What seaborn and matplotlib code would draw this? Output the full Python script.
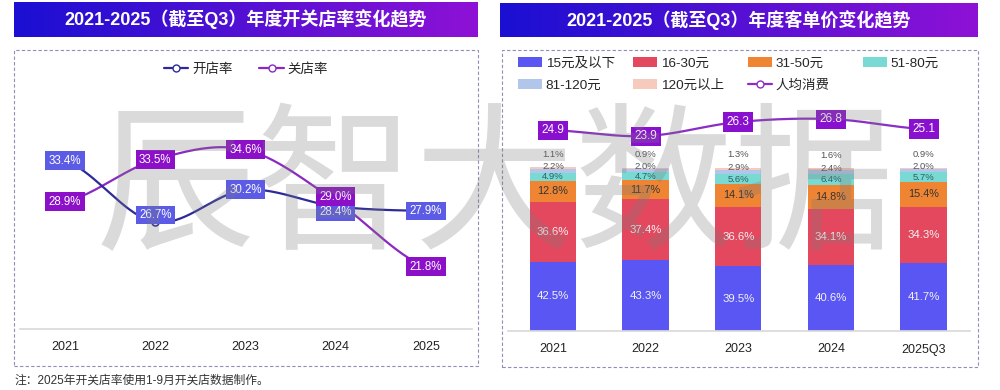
import numpy as np
import pandas as pd
import seaborn as sns
import matplotlib.pyplot as plt
from matplotlib.colors import LinearSegmentedColormap
from matplotlib.lines import Line2D
from matplotlib.patches import Rectangle, Patch

# ---- data ----
years = ['2021', '2022', '2023', '2024', '2025']
open_rate = [33.4, 26.7, 30.2, 28.4, 27.9]
close_rate = [28.9, 33.5, 34.6, 29.0, 21.8]

periods = ['2021', '2022', '2023', '2024', '2025Q3']
band_names = ['15元及以下', '16-30元', '31-50元', '51-80元', '81-120元', '120元以上']
share_le15 = [42.5, 43.3, 39.5, 40.6, 41.7]
share_16_30 = [36.6, 37.4, 36.6, 34.1, 34.3]
share_31_50 = [12.8, 11.7, 14.1, 14.8, 15.4]
share_51_80 = [4.9, 4.7, 5.6, 6.4, 5.7]
share_81_120 = [2.2, 2.0, 2.9, 2.4, 2.0]
share_gt120 = [1.1, 0.9, 1.3, 1.6, 0.9]
avg_spend = [24.9, 23.9, 26.3, 26.8, 25.1]

W, H = 1000, 390


def box(x0, y0, x1, y1):
    # pixel box (top-left origin) -> figure fraction rect
    return [x0 / W, 1 - y1 / H, (x1 - x0) / W, (y1 - y0) / H]


def smooth(vals, n=40):
    v = np.asarray(vals, float)
    xs, ys = [], []
    t = np.linspace(0, 1, n)
    for i in range(len(v) - 1):
        p0 = v[i - 1] if i > 0 else v[i]
        p3 = v[i + 2] if i + 2 < len(v) else v[i + 1]
        yy = 0.5 * (2 * v[i] + (-p0 + v[i + 1]) * t
                    + (2 * p0 - 5 * v[i] + 4 * v[i + 1] - p3) * t ** 2
                    + (-p0 + 3 * v[i] - 3 * v[i + 1] + p3) * t ** 3)
        xs.append(i + t)
        ys.append(yy)
    return np.concatenate(xs), np.concatenate(ys)


sns.set_theme(style='white')
plt.rcParams['font.family'] = ['Liberation Sans', 'Noto Sans CJK SC', 'DejaVu Sans']

fig = plt.figure(figsize=(10, 3.9), dpi=100)
fig.patch.set_facecolor('white')

# ---- title banners ----
grad_cmap = LinearSegmentedColormap.from_list('banner', ['#1a0fd2', '#8e12d6'])
gradient = np.linspace(0, 1, 256).reshape(1, -1)
titles = [('2021-2025（截至Q3）年度开关店率变化趋势', (14, 2, 477, 37)),
          ('2021-2025（截至Q3）年度客单价变化趋势', (500, 3, 978, 37))]
for text, rect in titles:
    axb = fig.add_axes(box(*rect))
    axb.imshow(gradient, aspect='auto', cmap=grad_cmap, extent=(0, 1, 0, 1))
    axb.axis('off')
    axb.text(0.5, 0.5, text, color='white', fontsize=13, fontweight='bold',
             ha='center', va='center', transform=axb.transAxes)

# ---- dashed frames ----
for x0, y0, x1, y1 in [(14, 50, 478, 366), (502, 50, 978, 367)]:
    r = box(x0, y0, x1, y1)
    fig.patches.append(Rectangle((r[0], r[1]), r[2], r[3], transform=fig.transFigure,
                                 fill=False, ec='#8e8eb8', lw=0.8, ls=(0, (3, 2))))

# ---- left: open / close rate ----
open_line, open_box = '#2e2a9a', '#5b5be6'
close_line, close_box = '#8c28c2', '#8c10c8'

ax1 = fig.add_axes(box(20, 50, 472, 329))
x_idx = np.arange(len(years))
for vals, lc in [(close_rate, close_line), (open_rate, open_line)]:
    sx, sy = smooth(vals)
    sns.lineplot(x=sx, y=sy, ax=ax1, color=lc, lw=1.6, estimator=None, sort=False)
    ax1.plot(x_idx, vals, 'o', mfc='white', mec=lc, ms=5, mew=1.2)

open_shift = [0, 5, 0, -4, 0]
close_shift = [0, 0, 0, 3, 0]
for vals, bc, shifts in [(open_rate, open_box, open_shift), (close_rate, close_box, close_shift)]:
    for i, v in enumerate(vals):
        ax1.annotate(f'{v:.1f}%', (i, v), xytext=(0, shifts[i]), textcoords='offset points',
                     ha='center', va='center', color='white', fontsize=8.3,
                     bbox=dict(boxstyle='square,pad=0.3', fc=bc, ec='none'))

ax1.set_xlim(-0.4986, 4.51)
ax1.set_ylim(15.0, 45.5)
ax1.set_xticks(x_idx)
ax1.set_xticklabels(years)
ax1.set_yticks([])
for s in ['left', 'right', 'top']:
    ax1.spines[s].set_visible(False)
ax1.spines['bottom'].set_color('#d9d9d9')
ax1.tick_params(axis='x', length=0, pad=9, labelsize=9, labelcolor='#222222')
ax1.set_xlabel('')
ax1.set_ylabel('')

h_open = Line2D([0], [0], color=open_line, lw=1.6, marker='o', mfc='white', mec=open_line, ms=5)
h_close = Line2D([0], [0], color=close_line, lw=1.6, marker='o', mfc='white', mec=close_line, ms=5)
fig.legend([h_open, h_close], ['开店率', '关店率'], loc='upper center',
           bbox_to_anchor=(0.246, 1 - 63 / H), ncol=2, frameon=False, fontsize=9.7,
           handlelength=1.8, handletextpad=0.3, columnspacing=2.0,
           borderpad=0, borderaxespad=0)

# ---- right: price band stacked bars + average spend ----
band_values = [share_le15, share_16_30, share_31_50, share_51_80, share_81_120, share_gt120]
band_colors = ['#5a56f4', '#e4485e', '#ef8533', '#78dad2', '#b2c5ea', '#f6cabd']
shares = pd.DataFrame(dict(zip(band_names, band_values)), index=periods)
cum = shares.cumsum(axis=1)

ax2 = fig.add_axes(box(508, 50, 970, 331))
for name, col in zip(band_names[::-1], band_colors[::-1]):
    sns.barplot(x=periods, y=cum[name].values, color=col, width=0.5, saturation=1,
                ax=ax2, edgecolor='none')

label_colors = ['#f2f2f2', '#f2f2f2', '#333333', '#2d5f66', '#555555', '#555555']
label_sizes = [8.2, 8.2, 7.8, 6.8, 6.8, 6.8]
label_shift = [0, 0, 0, 0, 3, 10]
for j, name in enumerate(band_names):
    for i, p in enumerate(periods):
        v = shares.loc[p, name]
        mid = cum.loc[p, name] - v / 2
        ax2.annotate(f'{v:.1f}%', (i, mid), xytext=(0, label_shift[j]), textcoords='offset points',
                     ha='center', va='center', fontsize=label_sizes[j], color=label_colors[j])

ax2.set_xlim(-0.485, 4.50)
ax2.set_ylim(0, 172)
ax2.set_yticks([])
for s in ['left', 'right', 'top']:
    ax2.spines[s].set_visible(False)
ax2.spines['bottom'].set_color('#d9d9d9')
ax2.tick_params(axis='x', length=0, pad=9, labelsize=9, labelcolor='#222222')
ax2.set_xlabel('')
ax2.set_ylabel('')

spend_line, spend_box = '#8a2ec4', '#8a10d0'
ax3 = ax2.twinx()
sx, sy = smooth(avg_spend)
sns.lineplot(x=sx, y=sy, ax=ax3, color=spend_line, lw=1.6, estimator=None, sort=False)
ax3.plot(np.arange(len(periods)), avg_spend, 'o', mfc='white', mec=spend_line, ms=5, mew=1.2)
for i, v in enumerate(avg_spend):
    ax3.annotate(f'{v:.1f}', (i, v), ha='center', va='center', color='white', fontsize=8.5,
                 bbox=dict(boxstyle='square,pad=0.3', fc=spend_box, ec='none'))
ax3.set_ylim(-9.4, 38.6)
ax3.set_xlim(-0.485, 4.50)
ax3.set_yticks([])
ax3.set_ylabel('')
for s in ax3.spines.values():
    s.set_visible(False)

band_handles = [Patch(fc=c, ec='none') for c in band_colors]
h_spend = Line2D([0], [0], color=spend_line, lw=1.6, marker='o', mfc='white', mec=spend_line, ms=5)
legend_cols = [
    ([band_handles[0], band_handles[4]], [band_names[0], band_names[4]], 518),
    ([band_handles[1], band_handles[5]], [band_names[1], band_names[5]], 633),
    ([band_handles[2], h_spend], [band_names[2], '人均消费'], 748),
    ([band_handles[3]], [band_names[3]], 863),
]
for hs, ls, xpx in legend_cols:
    fig.legend(hs, ls, loc='upper left', bbox_to_anchor=(xpx / W, 1 - 57 / H), ncol=1,
               frameon=False, fontsize=9.7, handlelength=1.75, handleheight=0.75,
               handletextpad=0.3, labelspacing=0.72, borderpad=0, borderaxespad=0)

# ---- footnote & watermark ----
fig.text(14 / W, 1 - 381 / H, '注：2025年开关店率使用1-9月开关店数据制作。', fontsize=8.5,
         color='#333333', ha='left', va='center')
fig.text(0.495, 1 - 192 / H, '辰智大数据', fontsize=115, color='#7a7a7a', alpha=0.28,
         ha='center', va='center', family=['Noto Sans CJK SC'], zorder=100)

fig.savefig('out.png', dpi=100)
plt.close(fig)
